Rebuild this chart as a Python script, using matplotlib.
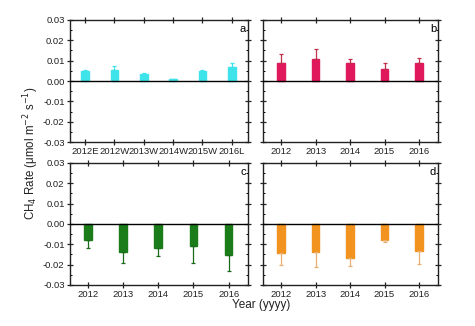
import numpy as np
import matplotlib
matplotlib.use("Agg")
import matplotlib.pyplot as plt
from matplotlib.ticker import MultipleLocator

plt.rcParams["font.family"] = ["Liberation Sans", "DejaVu Sans"]

# panel a
a_labels = ["2012E", "2012W", "2013W", "2014W", "2015W", "2016L"]
a_vals = [0.0048, 0.0053, 0.0035, 0.0008, 0.0048, 0.0068]
a_err = [0.0004, 0.0021, 0.0005, 0.0002, 0.0004, 0.0022]

years = ["2012", "2013", "2014", "2015", "2016"]
b_vals = [0.0090, 0.0110, 0.0089, 0.0059, 0.0086]
b_err = [0.0045, 0.0048, 0.0021, 0.0028, 0.0029]
c_vals = [-0.0081, -0.0136, -0.0116, -0.0106, -0.0154]
c_err = [0.0036, 0.0054, 0.0041, 0.0084, 0.0076]
d_vals = [-0.0142, -0.0137, -0.0167, -0.0078, -0.0131]
d_err = [0.0058, 0.0073, 0.0041, 0.0012, 0.0064]

fig = plt.figure(figsize=(4.75, 3.26), dpi=100)

panels = [
    ("a", [0.147, 0.564, 0.375, 0.375], a_labels, a_vals, a_err, "#3ee4ea", "#3ee4ea", 0.26, True),
    ("b", [0.554, 0.564, 0.368, 0.375], years, b_vals, b_err, "#e0185c", "#c0304a", 0.22, False),
    ("c", [0.147, 0.126, 0.375, 0.374], years, c_vals, c_err, "#1a7d1a", "#1a6a1a", 0.22, True),
    ("d", [0.554, 0.126, 0.368, 0.374], years, d_vals, d_err, "#f2921f", "#e8b070", 0.22, False),
]

for letter, rect, labels, vals, errs, color, ecolor, width, show_y in panels:
    ax = fig.add_axes(rect)
    x = np.arange(len(labels))
    vals = np.array(vals)
    errs = np.array(errs)
    # one-sided error bars, pointing away from zero
    lower = np.where(vals < 0, errs, 0)
    upper = np.where(vals > 0, errs, 0)
    ax.bar(x, vals, width=width, color=color, edgecolor=color, zorder=2)
    ax.errorbar(x, vals, yerr=[lower, upper], fmt="none", ecolor=ecolor,
                elinewidth=0.9, capsize=1.5, capthick=0.9, zorder=3)
    ax.axhline(0, color="black", lw=1.0, zorder=4)
    ax.set_ylim(-0.03, 0.03)
    ax.set_xlim(-0.52, len(labels) - 0.45)
    ax.set_xticks(x)
    ax.set_xticklabels(labels, fontsize=6.8)
    ax.yaxis.set_major_locator(MultipleLocator(0.01))
    ax.yaxis.set_minor_locator(MultipleLocator(0.005))
    ax.tick_params(direction="inout", top=True, right=True, length=4.5, width=0.9,
                   labelsize=6.8, pad=1.5, colors="#222222")
    ax.tick_params(which="minor", direction="in", right=True, length=1.5, width=0.7)
    if show_y:
        ax.set_yticklabels([f"{v:.2f}" for v in ax.get_yticks()])
    else:
        ax.set_yticklabels([])
    for s in ax.spines.values():
        s.set_linewidth(1.0)
        s.set_color("#222222")
    ax.text(0.99, 0.97, letter, transform=ax.transAxes, ha="right", va="top", fontsize=8)

fig.text(0.066, 0.53, "CH$_4$ Rate (μmol m$^{-2}$ s$^{-1}$)", rotation=90,
         ha="center", va="center", fontsize=8.3, color="#222222")
fig.text(0.55, 0.063, "Year (yyyy)", ha="center", va="center", fontsize=8.5, color="#222222")

fig.savefig("out.png", dpi=100)
